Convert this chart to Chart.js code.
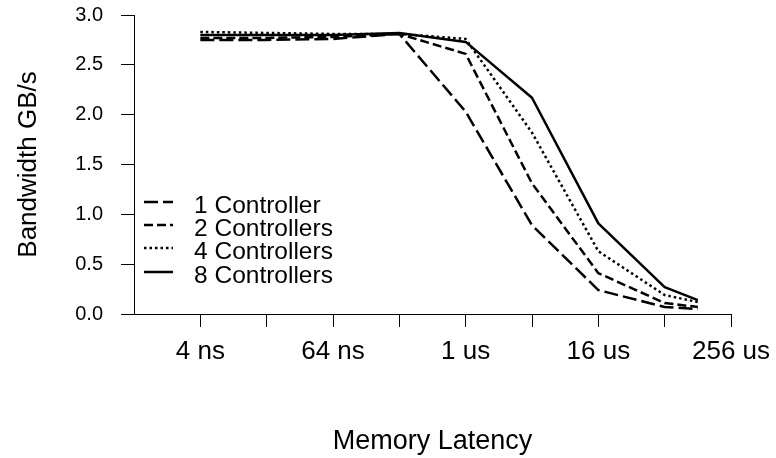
<!DOCTYPE html>
<html><head><meta charset="utf-8">
<script src="https://cdn.jsdelivr.net/npm/chart.js@4.4.1/dist/chart.umd.min.js"></script>
<style>html,body{margin:0;padding:0;background:#fff;} canvas{display:block}</style>
</head><body>
<canvas id="c" width="776" height="458"></canvas>
<script>
// Memory latency of each point, in ns (4 ns ... 128 us)
const latencyNs = [4, 16, 64, 256, 1024, 4096, 16384, 65536, 131072];
const seriesNames = ['1 Controller', '2 Controllers', '4 Controllers', '8 Controllers'];
// Bandwidth GB/s
const ctrl1 = [2.75, 2.75, 2.76, 2.81, 2.03, 0.89, 0.24, 0.07, 0.05];
const ctrl2 = [2.77, 2.77, 2.78, 2.81, 2.61, 1.31, 0.41, 0.11, 0.07];
const ctrl4 = [2.83, 2.82, 2.81, 2.81, 2.76, 1.82, 0.63, 0.19, 0.12];
const ctrl8 = [2.80, 2.80, 2.80, 2.82, 2.73, 2.17, 0.91, 0.27, 0.14];
// Axis ticks
const xTickValues = [4, 16, 64, 256, 1024, 4096, 16384, 65536, 262144];
const xTickLabels = ['4 ns', '', '64 ns', '', '1 us', '', '16 us', '', '256 us'];
const yTickValues = [0, 0.5, 1, 1.5, 2, 2.5, 3];

const FAM = '"Liberation Sans", Arial, Helvetica, sans-serif';
Chart.defaults.font.family = FAM;
Chart.defaults.color = '#000';

const seriesValues = [ctrl1, ctrl2, ctrl4, ctrl8];
const dashes = [[14, 5], [9, 4], [2.5, 3], []];

const datasets = seriesNames.map((name, i) => ({
  label: name,
  data: latencyNs.map((x, j) => ({x: x, y: seriesValues[i][j]})),
  borderColor: '#000',
  backgroundColor: '#000',
  borderWidth: 2.5,
  borderDash: dashes[i],
  borderCapStyle: 'butt',
  borderJoinStyle: 'round',
  pointRadius: 0,
  tension: 0,
  fill: false
}));

const legendPlugin = {
  id: 'inLegend',
  afterDatasetsDraw(chart) {
    const {ctx, chartArea} = chart;
    const x0 = chartArea.left + 10, x1 = chartArea.left + 39, tx = chartArea.left + 60;
    const y0 = chartArea.top + 187, dy = 23.2;
    ctx.save();
    ctx.font = '24.5px ' + FAM;
    ctx.textBaseline = 'middle';
    ctx.textAlign = 'left';
    ctx.fillStyle = '#000';
    chart.data.datasets.forEach((ds, i) => {
      const y = Math.round(y0 + i * dy);
      ctx.beginPath();
      ctx.setLineDash(ds.borderDash || []);
      ctx.lineWidth = ds.borderWidth;
      ctx.strokeStyle = ds.borderColor;
      ctx.lineCap = 'butt';
      ctx.moveTo(x0, y);
      ctx.lineTo(x1, y);
      ctx.stroke();
      ctx.setLineDash([]);
      ctx.fillText(ds.label, tx, y + 4);
    });
    ctx.restore();
  }
};

new Chart(document.getElementById('c'), {
  type: 'line',
  data: {datasets: datasets},
  plugins: [legendPlugin],
  options: {
    responsive: false,
    animation: false,
    devicePixelRatio: 1,
    layout: {padding: {top: 15, right: 45, left: 0, bottom: 0}},
    plugins: {legend: {display: false}, tooltip: {enabled: false}},
    scales: {
      x: {
        type: 'logarithmic',
        position: 'bottom',
        min: 1,
        max: 262144,
        afterBuildTicks: s => { s.ticks = xTickValues.map(v => ({value: v})); },
        afterFit: s => { s.height = 144; s.paddingLeft = 0; s.paddingRight = 0; },
        ticks: {
          autoSkip: false, maxRotation: 0, minRotation: 0,
          callback: (v, i) => xTickLabels[i],
          font: {size: 26, family: FAM}, color: '#000', padding: 9
        },
        grid: {drawOnChartArea: false, drawTicks: true, tickLength: 13, color: '#000', lineWidth: 1},
        border: {display: true, color: '#000', width: 1},
        title: {display: true, text: 'Memory Latency', font: {size: 27, family: FAM}, color: '#000', padding: {top: 0, bottom: 0}}
      },
      y: {
        type: 'linear',
        min: 0,
        max: 3,
        afterBuildTicks: s => { s.ticks = yTickValues.map(v => ({value: v})); },
        afterFit: s => { s.width = 134; s.paddingTop = 0; s.paddingBottom = 0; },
        ticks: {
          callback: v => Number(v).toFixed(1),
          font: {size: 20, family: FAM}, color: '#000', padding: 18
        },
        grid: {drawOnChartArea: false, drawTicks: true, tickLength: 13, color: '#000', lineWidth: 1},
        border: {display: true, color: '#000', width: 1},
        title: {display: true, text: 'Bandwidth GB/s', font: {size: 26, family: FAM}, color: '#000', padding: {top: 13, bottom: 0}}
      }
    }
  }
});
</script>
</body></html>
